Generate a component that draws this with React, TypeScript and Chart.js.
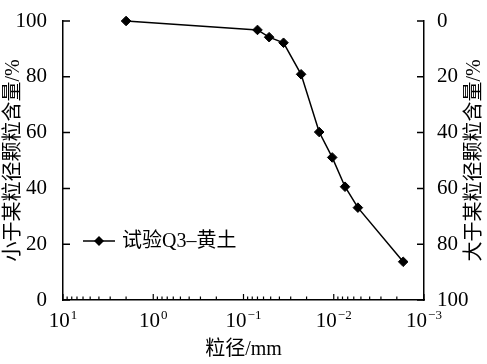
import React, { useEffect, useRef } from 'react';
import { Chart, registerables } from 'chart.js';

Chart.register(...registerables);

// ---- data ----
const particleSize = [2, 0.07, 0.052, 0.036, 0.023, 0.0145, 0.0104, 0.0075, 0.0054, 0.0017];
const passingPercent = [100, 96.8, 94.2, 92.2, 80.9, 60.2, 51.1, 40.6, 33.1, 13.7];
const seriesName = '试验Q3–黄土';
const xDecades = [10, 1, 0.1, 0.01, 0.001];
const xTickBase = '10';
const xTickExponents = ['1', '0', '−1', '−2', '−3'];
const yTickValues = [0, 20, 40, 60, 80, 100];
const xTitle = '粒径/mm';
const yLeftTitle = '小于某粒径颗粒含量/%';
const yRightTitle = '大于某粒径颗粒含量/%';

const FONT = "'Liberation Serif', 'Noto Sans CJK SC', serif";
const INK = '#000';

const inwardTicks = {
  id: 'inwardTicks',
  afterDraw(chart: any) {
    const ctx = chart.ctx;
    const area = chart.chartArea;
    const xs = chart.scales.x;
    const yl = chart.scales.y;
    const yr = chart.scales.y2;
    ctx.save();
    ctx.strokeStyle = INK;
    ctx.lineWidth = 1.5;
    ctx.beginPath();
    yTickValues.forEach((v) => {
      const py = yl.getPixelForValue(v);
      ctx.moveTo(area.left, py);
      ctx.lineTo(area.left + 7, py);
      const pr = yr.getPixelForValue(v);
      ctx.moveTo(area.right, pr);
      ctx.lineTo(area.right - 7, pr);
    });
    ctx.stroke();
    ctx.lineWidth = 1.2;
    ctx.beginPath();
    xDecades.forEach((d, i) => {
      const px = xs.getPixelForValue(d);
      ctx.moveTo(px, area.bottom);
      ctx.lineTo(px, area.bottom - 6);
      if (i < xDecades.length - 1) {
        for (let m = 2; m <= 9; m++) {
          const v = (d / 10) * m;
          const pm = xs.getPixelForValue(v);
          ctx.moveTo(pm, area.bottom);
          ctx.lineTo(pm, area.bottom - 3.5);
        }
      }
    });
    ctx.stroke();

    // x tick labels: 10 with superscript exponent
    ctx.fillStyle = INK;
    ctx.textBaseline = 'alphabetic';
    ctx.textAlign = 'left';
    xDecades.forEach((d, i) => {
      const px = xs.getPixelForValue(d);
      ctx.font = `21px ${FONT}`;
      const wb = ctx.measureText(xTickBase).width;
      ctx.font = `13px ${FONT}`;
      const we = ctx.measureText(xTickExponents[i]).width;
      const x0 = px - (wb + we + 1) / 2;
      ctx.font = `21px ${FONT}`;
      ctx.fillText(xTickBase, x0, area.bottom + 27);
      ctx.font = `13px ${FONT}`;
      ctx.fillText(xTickExponents[i], x0 + wb + 1, area.bottom + 19);
    });

    // right axis title (reads bottom-to-top)
    ctx.save();
    ctx.translate(475, (area.top + area.bottom) / 2);
    ctx.rotate(-Math.PI / 2);
    ctx.font = `20px ${FONT}`;
    ctx.fillStyle = INK;
    ctx.textAlign = 'center';
    ctx.textBaseline = 'middle';
    ctx.fillText(yRightTitle, 0, 0);
    ctx.restore();

    // legend
    const ly = area.top + 220;
    const lx = area.left + 20;
    ctx.lineWidth = 1.5;
    ctx.beginPath();
    ctx.moveTo(lx, ly);
    ctx.lineTo(lx + 32, ly);
    ctx.stroke();
    ctx.fillStyle = INK;
    ctx.beginPath();
    const cx = lx + 16;
    const r = 5;
    ctx.moveTo(cx - r, ly);
    ctx.lineTo(cx, ly - r);
    ctx.lineTo(cx + r, ly);
    ctx.lineTo(cx, ly + r);
    ctx.closePath();
    ctx.fill();
    ctx.font = `20px ${FONT}`;
    ctx.textAlign = 'left';
    ctx.textBaseline = 'middle';
    ctx.fillText(seriesName, lx + 39, ly + 1);
    ctx.restore();
  },
};

export default function App() {
  const ref = useRef<HTMLCanvasElement | null>(null);
  useEffect(() => {
    if (!ref.current) return;
    const chart = new Chart(ref.current, {
      type: 'scatter',
      data: {
        datasets: [
          {
            label: seriesName,
            data: particleSize.map((s, i) => ({ x: s, y: passingPercent[i] })),
            showLine: true,
            clip: false,
            borderColor: INK,
            backgroundColor: INK,
            borderWidth: 1.5,
            pointStyle: 'rectRot',
            pointRadius: 4.8,
            pointBorderWidth: 1,
            pointBorderColor: INK,
            pointBackgroundColor: INK,
            yAxisID: 'y',
          },
        ],
      },
      options: {
        responsive: false,
        animation: false,
        devicePixelRatio: 1,
        layout: { padding: { top: 21, left: 0, right: 0, bottom: 0 } },
        plugins: { legend: { display: false }, tooltip: { enabled: false } },
        scales: {
          x: {
            type: 'logarithmic',
            reverse: true,
            min: 0.001,
            max: 10,
            grid: { display: false },
            border: { display: true, color: INK, width: 1.5 },
            afterBuildTicks: (s: any) => {
              s.ticks = xDecades.map((v) => ({ value: v }));
            },
            afterFit: (s: any) => {
              s.height = 64;
            },
            ticks: { display: false },
            title: {
              display: true,
              text: xTitle,
              color: INK,
              font: { family: FONT, size: 20 },
              padding: { top: 0, bottom: 2 },
            },
          },
          y: {
            type: 'linear',
            position: 'left',
            min: 0,
            max: 100,
            grid: { display: false },
            border: { display: true, color: INK, width: 1.5 },
            afterFit: (s: any) => {
              s.width = 63;
            },
            ticks: {
              stepSize: 20,
              padding: 8,
              color: INK,
              font: { family: FONT, size: 21 },
            },
            title: {
              display: true,
              text: yLeftTitle,
              color: INK,
              font: { family: FONT, size: 20 },
              padding: { top: 2, bottom: 0 },
            },
          },
          y2: {
            type: 'linear',
            position: 'right',
            reverse: true,
            min: 0,
            max: 100,
            grid: { display: false },
            border: { display: true, color: INK, width: 1.5 },
            afterFit: (s: any) => {
              s.width = 63;
            },
            ticks: {
              stepSize: 20,
              padding: 5,
              color: INK,
              font: { family: FONT, size: 21 },
            },
            title: { display: false },
          },
        },
      },
      plugins: [inwardTicks],
    } as any);
    return () => chart.destroy();
  }, []);
  return (
    <div style={{ position: 'absolute', left: 0, top: 0, width: 487, height: 364, background: '#fff' }}>
      <canvas ref={ref} width={487} height={364} style={{ display: 'block' }} />
    </div>
  );
}
